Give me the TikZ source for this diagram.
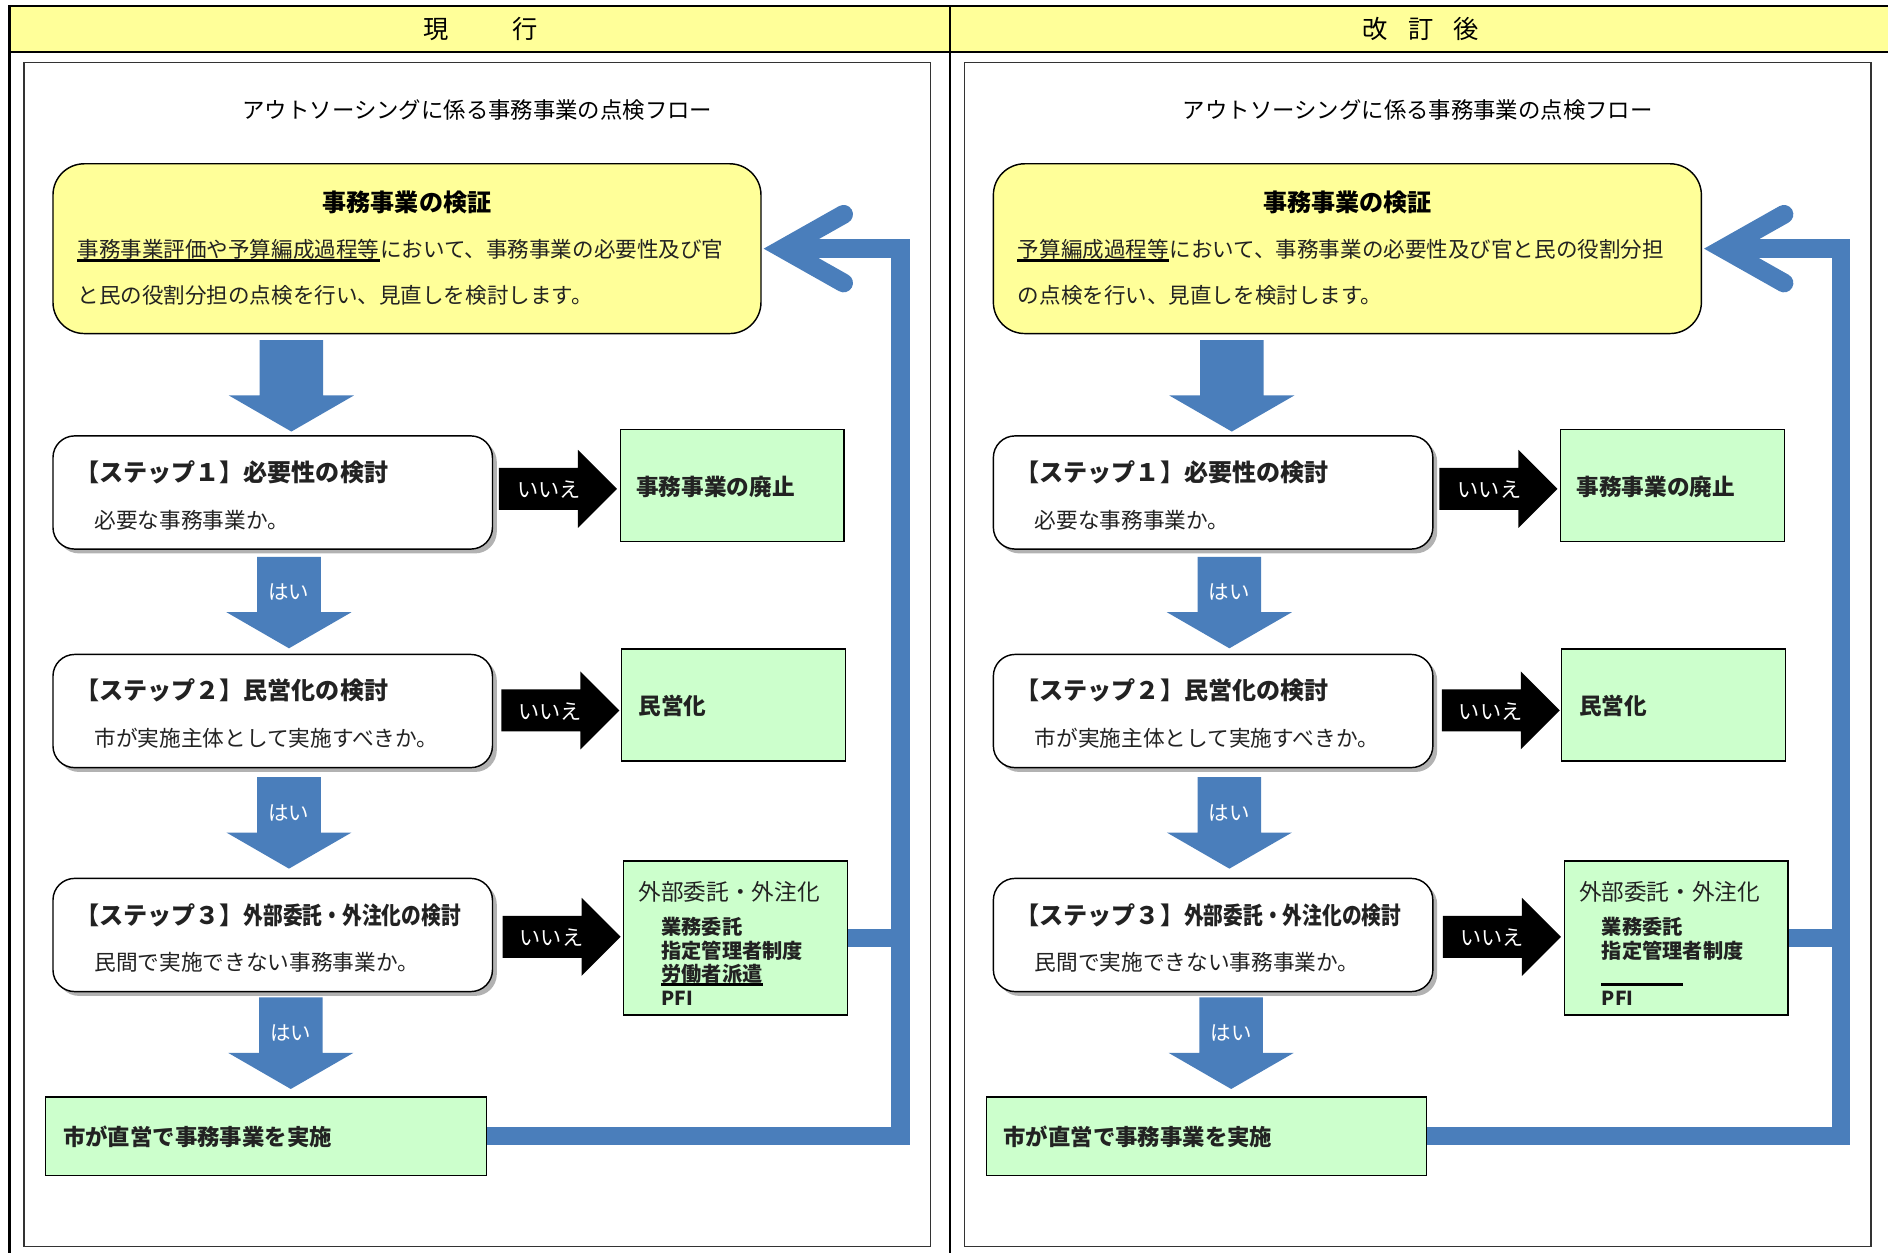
\documentclass[tikz,border=0pt]{standalone}
\usepackage{fontspec}
\setmainfont{Noto Sans CJK JP}
\usepackage{graphicx}
\usetikzlibrary{shapes.arrows,shadows,calc}
\definecolor{hdryellow}{HTML}{FFFF99}
\definecolor{boxyellow}{HTML}{FFFF99}
\definecolor{boxgreen}{HTML}{CCFFCC}
\definecolor{flowblue}{HTML}{4A7EBB}
\definecolor{txtdark}{HTML}{222222}
\newcommand\fs[1]{\fontsize{#1}{#1}\selectfont}

\tikzset{
  tblline/.style={draw=black, line width=1pt},
  frameline/.style={draw=black!80, line width=0.6pt},
  verifybox/.style={draw=black, line width=0.6pt, fill=boxyellow, rounded corners=13pt, inner sep=0pt},
  stepbox/.style={draw=black, line width=0.6pt, fill=white, rounded corners=9pt, inner sep=0pt,
    minimum width=182.5pt, minimum height=47pt,
    drop shadow={shadow xshift=1.8pt, shadow yshift=-1.8pt, fill=black, opacity=0.3}},
  resultbox/.style={draw=black, line width=0.5pt, fill=boxgreen, inner sep=0pt, minimum width=93pt},
  yesarrow/.style={single arrow, shape border rotate=270, fill=flowblue, draw=none, anchor=tail,
    text width=26pt, minimum width=51.5pt, single arrow head extend=12.75pt, single arrow tip angle=120,
    minimum height=38pt, inner sep=0pt},
  noarrow/.style={single arrow, fill=black, draw=none, anchor=tail, text height=8.5pt, text depth=8.5pt,
    minimum width=32pt, single arrow head extend=7.5pt, single arrow tip angle=90, minimum height=49pt,
    inner sep=0pt},
  yeslbl/.style={inner sep=0pt, text=white, font=\fs{8.5}},
  nolbl/.style={inner sep=0pt, text=white, font=\fs{8.8}},
  fbline/.style={draw=flowblue, line width=7.8pt},
  uline/.style={draw=black, line width=1.3pt},
  lbl/.style={inner sep=0pt, anchor=west, text=txtdark},
  headtxt/.style={inner sep=0pt, text=black, font=\bfseries\fs{10}},
}

% #1 underlined part of line 1, #2 rest of line 1, #3 line 2, #4 third item of the outsourcing list
\newcommand\flowpanel[4]{%
  \draw[frameline] (20,52) rectangle (773,1035);
  \node[inner sep=0pt, font=\fs{9.3}] (title) at (396.5,91) {アウトソーシングに係る事務事業の点検フロー};
  % verification box
  \node[verifybox, minimum width=294pt, minimum height=70.5pt] (verify) at (338,206.5) {};
  \node[headtxt] (vhead) at (338,168) {事務事業の検証};
  \node[lbl, font=\fs{8.95}] (v1a) at (64,207) {#1};
  \node[lbl, font=\fs{8.95}, anchor=base west] (v1b) at (v1a.base east) {#2};
  \draw[uline] ([yshift=-1.4pt]v1a.base west) -- ([yshift=-1.4pt]v1a.base east);
  \node[lbl, font=\fs{8.95}] (v2) at (64,245) {#3};
  % step 1
  \node[yesarrow] (a0) at (242,282) {};
  \node[stepbox] (s1) at (226.5,409) {};
  \node[lbl, font=\bfseries\fs{10}] (s1t) at (62,392) {【ステップ１】必要性の検討};
  \node[lbl, font=\fs{9}] (s1s) at (78,432) {必要な事務事業か。};
  \node[noarrow] (n1) at (414,406) {};
  \node[nolbl] (n1t) at (456,407) {いいえ};
  \node[resultbox, minimum height=46.5pt] (r1) at (608,403.5) {};
  \node[lbl, font=\bfseries\fs{9.4}] (r1t) at (528,404) {事務事業の廃止};
  % step 2
  \node[yesarrow] (a1) at (240,462) {};
  \node[yeslbl] (a1t) at (240,492) {はい};
  \node[stepbox] (s2) at (226.5,590.5) {};
  \node[lbl, font=\bfseries\fs{10}] (s2t) at (62,573) {【ステップ２】民営化の検討};
  \node[lbl, font=\fs{9}] (s2s) at (78,613) {市が実施主体として実施すべきか。};
  \node[noarrow] (n2) at (416,590) {};
  \node[nolbl] (n2t) at (457,591) {いいえ};
  \node[resultbox, minimum height=46.5pt] (r2) at (609,585.5) {};
  \node[lbl, font=\bfseries\fs{9.4}] (r2t) at (530,586) {民営化};
  % step 3
  \node[yesarrow] (a2) at (240,645) {};
  \node[yeslbl] (a2t) at (240,675) {はい};
  \node[stepbox] (s3) at (226.5,776.5) {};
  \node[lbl, font=\bfseries\fs{10}] (s3t) at (62,760) {【ステップ３】\scalebox{0.82}[1]{外部委託・外注化の検討}};
  \node[lbl, font=\fs{9}] (s3s) at (78,799) {民間で実施できない事務事業か。};
  \node[noarrow] (n3) at (417,778) {};
  \node[nolbl] (n3t) at (458,779) {いいえ};
  \node[resultbox, minimum height=64pt] (r3) at (611,779) {};
  \node[lbl, font=\fs{9.4}] (r3t) at (530,741) {外部委託・外注化};
  \node[lbl, font=\bfseries\fs{8.4}] (o1) at (549,770) {業務委託};
  \node[lbl, font=\bfseries\fs{8.4}] (o2) at (549,790) {指定管理者制度};
  \node[lbl, font=\bfseries\fs{8.4}] (o3) at (549,809) {#4};
  \draw[uline] ([yshift=-1.2pt]o3.base west) -- ([yshift=-1.2pt]o3.base east);
  \node[lbl, font=\bfseries\fs{8}] (o4) at (549,829) {PFI};
  % direct implementation
  \node[yesarrow] (a3) at (241.5,828) {};
  \node[yeslbl] (a3t) at (241.5,858) {はい};
  \node[resultbox, minimum width=183pt, minimum height=32.5pt] (direct) at (221,943.5) {};
  \node[lbl, font=\bfseries\fs{9.3}] (dt) at (52,944) {市が直営で事務事業を実施};
  % feedback line
  \coordinate (fbtop) at (748,206.5);
  \draw[fbline, line join=miter] (direct.east) -| (fbtop) -- ([xshift=8.75pt]verify.east);
  \draw[fbline] (r3.east) -- (r3.east -| fbtop);
  \draw[fbline, line cap=round, line join=miter]
    ($(verify.east)+(68,-28.5)$) -- ($(verify.east)+(17.5,0)$) -- ($(verify.east)+(68,28.5)$);
}

\begin{document}
\begin{tikzpicture}[x=0.5pt, y=-0.5pt]
  \useasboundingbox (0,0) rectangle (1568,1041);
  % table header
  \fill[hdryellow] (8,5) rectangle (1568,43);
  \draw[tblline] (1568,5) -- (8,5) -- (8,1041);
  \draw[tblline] (8,43) -- (1568,43);
  \draw[tblline] (789,5) -- (789,1041);
  \node[inner sep=0pt, font=\fs{10.5}] (hdrL) at (399,24) {現\hspace{26.5pt}行};
  \node[inner sep=0pt, font=\fs{10.5}] (hdrR) at (1180,24) {改\hspace{8.5pt}訂\hspace{8.5pt}後};
  % left panel
  \begin{scope}[name prefix=L-]
    \flowpanel{事務事業評価や予算編成過程等}{において、事務事業の必要性及び官}{と民の役割分担の点検を行い、見直しを検討します。}{労働者派遣}
  \end{scope}
  % right panel
  \begin{scope}[xshift=390.5pt, name prefix=R-]
    \flowpanel{予算編成過程等}{において、事務事業の必要性及び官と民の役割分担}{の点検を行い、見直しを検討します。}{\phantom{労働者派}}
  \end{scope}
\end{tikzpicture}
\end{document}
